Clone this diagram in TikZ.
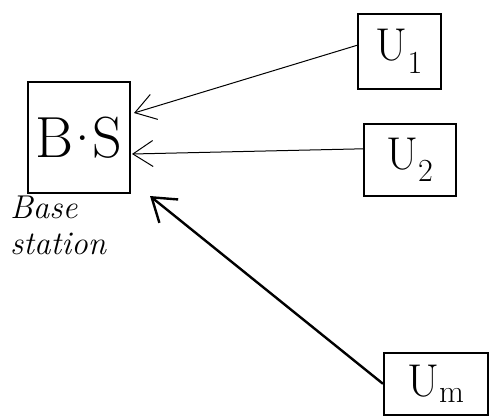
\documentclass[tikz,border=0pt]{standalone}
\usepackage{fontspec}
\usetikzlibrary{arrows.meta}
\begin{document}
\begin{tikzpicture}[x=1pt,y=-1pt,
  box/.style={draw, line width=1.6pt, inner sep=0pt, anchor=north west},
  link/.style={line width=1pt, -{Straight Barb[length=20pt,width=26pt,line width=1pt]}},
  boldlink/.style={line width=2.4pt, -{Straight Barb[length=22pt,width=30pt,line width=2.4pt]}},
  lbl/.style={font=\fontsize{33}{33}\selectfont\itshape, inner sep=0pt, anchor=west},
  ulbl/.style={font=\fontsize{46}{46}\selectfont}
]
\useasboundingbox (0,0) rectangle (489,416);

% base station and users
\node[box, minimum width=102pt, minimum height=111pt, text width=102pt, align=center,
      font=\fontsize{58}{58}\selectfont] (bs) at (27,81) {B\kern.04em\raisebox{.28em}{.}\kern.04em S};
\node[box, ulbl, minimum width=83pt, minimum height=75pt] (u1) at (357,13) {U\textsubscript{1}};
\node[box, ulbl, minimum width=92pt, minimum height=72pt] (u2) at (363,123) {U\textsubscript{2}};
\node[box, ulbl, minimum width=104pt, minimum height=62pt] (um) at (383,352) {U\textsubscript{m}};

% caption under the base station
\node[lbl] (cap1) at (10,207) {Base};
\node[lbl] (cap2) at (10,244) {station};

% arrow tips next to the base station
\coordinate (t1) at (134,113);
\coordinate (t2) at (132,154);
\coordinate (tm) at (150,196);

\draw[link] ([yshift=6pt]u1.west) -- (t1);
\draw[link] ([yshift=11pt]u2.west) -- (t2);
\draw[boldlink] (um.west) -- (tm);
\end{tikzpicture}
\end{document}
